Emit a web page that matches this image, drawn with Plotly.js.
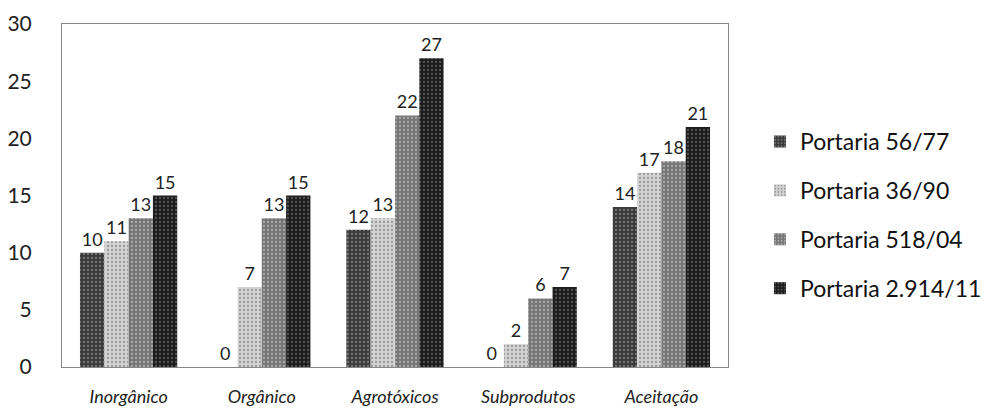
<!DOCTYPE html>
<html>
<head>
<meta charset="utf-8">
<script src="https://cdn.plot.ly/plotly-3.0.1.min.js"></script>
<style>html,body{margin:0;padding:0;background:#fff;}</style>
</head>
<body>
<div id="chart" style="width:999px;height:412px;"></div>
<script>
const categories = ["Inorgânico", "Orgânico", "Agrotóxicos", "Subprodutos", "Aceitação"];
const seriesNames = ["Portaria 56/77", "Portaria 36/90", "Portaria 518/04", "Portaria 2.914/11"];
const p5677 = [10, 0, 12, 0, 14];
const p3690 = [11, 7, 13, 2, 17];
const p51804 = [13, 13, 22, 6, 18];
const p291411 = [15, 15, 27, 7, 21];
const yTicks = [0, 5, 10, 15, 20, 25, 30];

const values = [p5677, p3690, p51804, p291411];
const colors = ["#3a3a3a", "#d4d4d4", "#767676", "#1c1c1c"];
const patFg = ["#777", "#999", "#aaa", "#555"];

const traces = values.map((v, i) => ({
  type: "bar",
  name: seriesNames[i],
  legendgroup: "g" + i,
  x: categories,
  y: v,
  text: v.map(String),
  textposition: "outside",
  cliponaxis: false,
  textfont: {family: "Lato, 'Open Sans', sans-serif", size: 18, color: "#222"},
  marker: {
    color: colors[i],
    line: {width: 0},
    pattern: {shape: ".", fgcolor: patFg[i], bgcolor: colors[i], size: 4, solidity: 0.25}
  }
}));

const layout = {
  width: 999,
  height: 412,
  margin: {l: 62, r: 249, t: 24, b: 45},
  paper_bgcolor: "#fff",
  plot_bgcolor: "#fff",
  barmode: "group",
  bargap: 0.27,
  bargroupgap: 0,
  showlegend: true,
  legend: {
    x: 1.048, xanchor: "left",
    y: 0.443, yanchor: "middle",
    font: {family: "Lato, 'Open Sans', sans-serif", size: 23, color: "#111"},
    traceorder: "grouped",
    tracegroupgap: 16,
    itemwidth: 30,
    bgcolor: "rgba(0,0,0,0)"
  },
  xaxis: {
    showline: true, mirror: true, linecolor: "#888", linewidth: 1,
    showgrid: false, ticks: "",
    ticklabelstandoff: 13,
    tickfont: {family: "Lato, 'Open Sans', sans-serif", size: 18, color: "#222", style: "italic"}
  },
  yaxis: {
    range: [0, 30],
    tickvals: yTicks,
    showline: true, mirror: true, linecolor: "#888", linewidth: 1,
    showgrid: false, zeroline: false, ticks: "",
    ticklabelstandoff: 25,
    tickfont: {family: "Lato, 'Open Sans', sans-serif", size: 21, color: "#222"}
  }
};

Plotly.newPlot("chart", traces, layout, {displayModeBar: false, staticPlot: true});
</script>
</body>
</html>
